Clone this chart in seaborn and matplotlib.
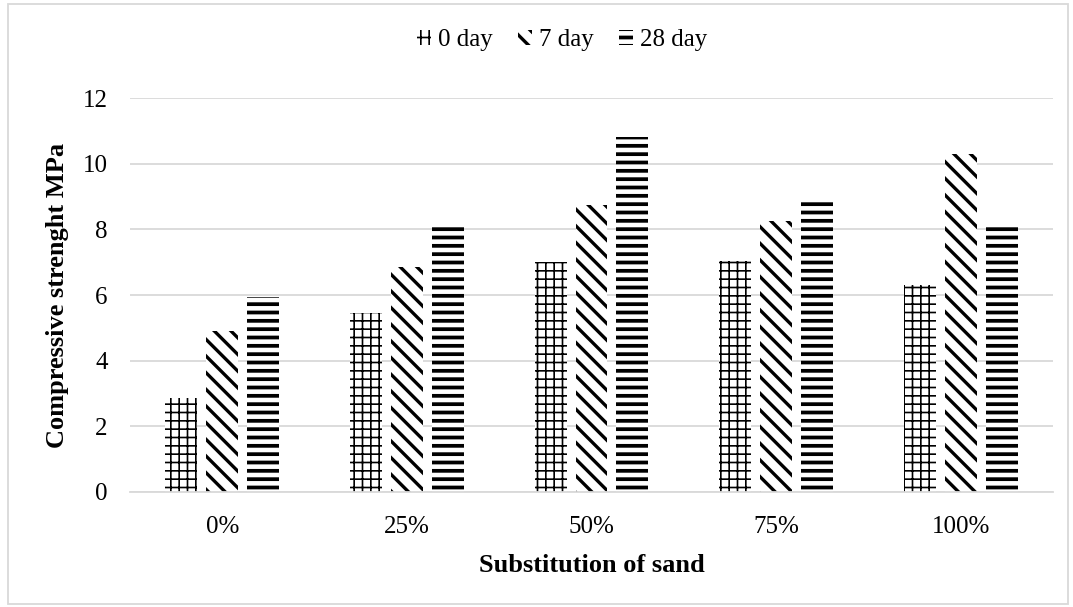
import numpy as np
import pandas as pd
import matplotlib
matplotlib.use("Agg")
import matplotlib.pyplot as plt
import seaborn as sns

categories = ["0%", "25%", "50%", "75%", "100%"]
series_names = ["0 day", "7 day", "28 day"]
day0 = [2.85, 5.45, 7.0, 7.05, 6.3]
day7 = [4.9, 6.85, 8.75, 8.25, 10.3]
day28 = [5.95, 8.2, 10.8, 8.95, 8.1]
yticks = [0, 2, 4, 6, 8, 10, 12]

df = pd.DataFrame({
    "cat": categories * 3,
    "series": [s for s in series_names for _ in categories],
    "value": day0 + day7 + day28,
})

sns.set_theme(style="white")
plt.rcParams["font.family"] = ["Liberation Serif", "DejaVu Serif"]
plt.rcParams["text.color"] = "black"
plt.rcParams["axes.labelcolor"] = "black"
plt.rcParams["hatch.linewidth"] = 1.2

fig = plt.figure(figsize=(10.73, 6.07), dpi=100)
ax = fig.add_axes([130 / 1073, 115 / 607, 923 / 1073, 394 / 607])

sns.barplot(data=df, x="cat", y="value", hue="series", order=categories,
            hue_order=series_names, palette=["white"] * 3, width=0.666, gap=0.22,
            edgecolor="black", linewidth=0, ax=ax, legend=True, errorbar=None,
            saturation=1)

hatches = ["++", "\\\\", "--"]
hlw = [1.2, 2.4, 2.7]
for i, cont in enumerate(ax.containers):
    for p in cont:
        p.set_hatch(hatches[i])
        p.set_facecolor("white")
        p.set_edgecolor("black")
        p.set_linewidth(0)
        if hasattr(p, "set_hatch_linewidth"):
            p.set_hatch_linewidth(hlw[i])
        else:
            p._hatch_linewidth = hlw[i]

ax.set_ylim(0, 12)
ax.set_yticks(yticks)
ax.set_yticklabels([str(t) for t in yticks])
ax.yaxis.grid(True, color="#d9d9d9", linewidth=1.3)
ax.set_axisbelow(True)
for s in ["top", "right", "left"]:
    ax.spines[s].set_visible(False)
ax.spines["bottom"].set_color("#d9d9d9")
ax.spines["bottom"].set_linewidth(1.3)
ax.tick_params(axis="both", length=0, labelsize=18, colors="black")
ax.tick_params(axis="y", pad=16)
ax.tick_params(axis="x", pad=17)
ax.set_xlabel("Substitution of sand", fontsize=19, fontweight="bold", labelpad=12,
              color="black")
ax.set_ylabel("Compressive strenght MPa", fontsize=19, fontweight="bold", labelpad=10,
              color="black")

ax.legend_.remove()
handles, labels = ax.get_legend_handles_labels()
leg = fig.legend(handles, labels, loc="center", bbox_to_anchor=(562 / 1073, 1 - 40 / 607),
                 ncol=3, frameon=False, fontsize=18, handlelength=0.55, handleheight=0.55,
                 handletextpad=0.3, columnspacing=1.0)
for h, hh, lw in zip(leg.legend_handles, hatches, hlw):
    h.set_hatch(hh)
    h.set_edgecolor("black")
    h.set_linewidth(0)
    if hasattr(h, "set_hatch_linewidth"):
        h.set_hatch_linewidth(lw)

fig.patches.append(plt.Rectangle((8 / 1073, 3 / 607), 1060 / 1073, 600 / 607,
                                 transform=fig.transFigure, fill=False,
                                 edgecolor="#d9d9d9", linewidth=1.3))

fig.savefig("out.png", dpi=100)
